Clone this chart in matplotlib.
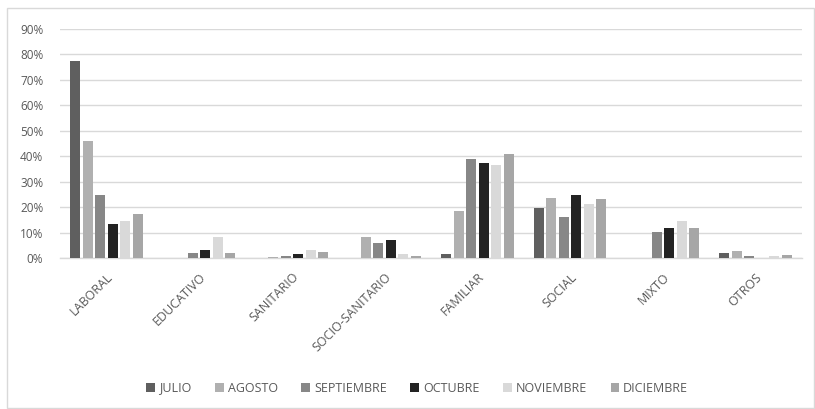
import matplotlib
matplotlib.use("Agg")
import matplotlib.pyplot as plt
from matplotlib.patches import Rectangle
from matplotlib.ticker import PercentFormatter
import numpy as np

plt.rcParams["font.family"] = ["Open Sans", "DejaVu Sans"]

# ---------------- Data (fractions) ----------------
categories = ["LABORAL", "EDUCATIVO", "SANITARIO", "SOCIO-SANITARIO",
              "FAMILIAR", "SOCIAL", "MIXTO", "OTROS"]
months = ["JULIO", "AGOSTO", "SEPTIEMBRE", "OCTUBRE", "NOVIEMBRE", "DICIEMBRE"]

julio      = [0.773, 0.000, 0.000, 0.000, 0.014, 0.197, 0.000, 0.020]
agosto     = [0.458, 0.000, 0.005, 0.081, 0.185, 0.235, 0.000, 0.026]
septiembre = [0.248, 0.018, 0.008, 0.059, 0.390, 0.163, 0.101, 0.008]
octubre    = [0.134, 0.031, 0.014, 0.071, 0.373, 0.248, 0.117, 0.000]
noviembre  = [0.146, 0.081, 0.031, 0.014, 0.367, 0.214, 0.146, 0.006]
diciembre  = [0.173, 0.018, 0.025, 0.008, 0.408, 0.231, 0.117, 0.013]

series = [julio, agosto, septiembre, octubre, noviembre, diciembre]
colors = ["#5f5f5f", "#b0b0b0", "#878787", "#232323", "#d9d9d9", "#a6a6a6"]

# ---------------- Figure ----------------
fig = plt.figure(figsize=(8.15, 4.09), dpi=100)
ax = fig.add_axes([60 / 815, 1 - 258 / 409, 742 / 815, 229 / 409])

x = np.arange(len(categories))
step = 0.135
for i, (vals, col, name) in enumerate(zip(series, colors, months)):
    ax.bar(x + (i - 2.5) * step, vals, width=0.108, color=col, label=name, zorder=3)

ax.set_xlim(-0.5, len(categories) - 0.5)
ax.set_ylim(0, 0.9)
ax.set_yticks(np.arange(0, 0.91, 0.1))
ax.yaxis.set_major_formatter(PercentFormatter(1.0, decimals=0))
ax.grid(axis="y", color="#d9d9d9", linewidth=1.0, zorder=0)
ax.set_axisbelow(True)

for s in ["top", "right", "left"]:
    ax.spines[s].set_visible(False)
ax.spines["bottom"].set_color("#d9d9d9")
ax.spines["bottom"].set_linewidth(1.0)

ax.tick_params(axis="both", length=0, colors="#595959")
ax.tick_params(axis="y", pad=12, labelsize=8.5)
ax.set_xticks(x)
ax.set_xticklabels(categories, rotation=45, ha="right", va="top",
                   rotation_mode="anchor", fontsize=9)
ax.tick_params(axis="x", pad=9)

fig.legend(loc="center", bbox_to_anchor=(0.512, 1 - 388 / 409), ncol=6,
           frameon=False, fontsize=9, handlelength=0.7, handleheight=0.7,
           handletextpad=0.3, columnspacing=1.9, labelcolor="#595959")

# chart border
fig.patches.append(Rectangle((7 / 815, 1 / 409), 807 / 815, 400 / 409,
                             transform=fig.transFigure, fill=False,
                             edgecolor="#d9d9d9", linewidth=1.0))

fig.savefig("out.png", dpi=100)
